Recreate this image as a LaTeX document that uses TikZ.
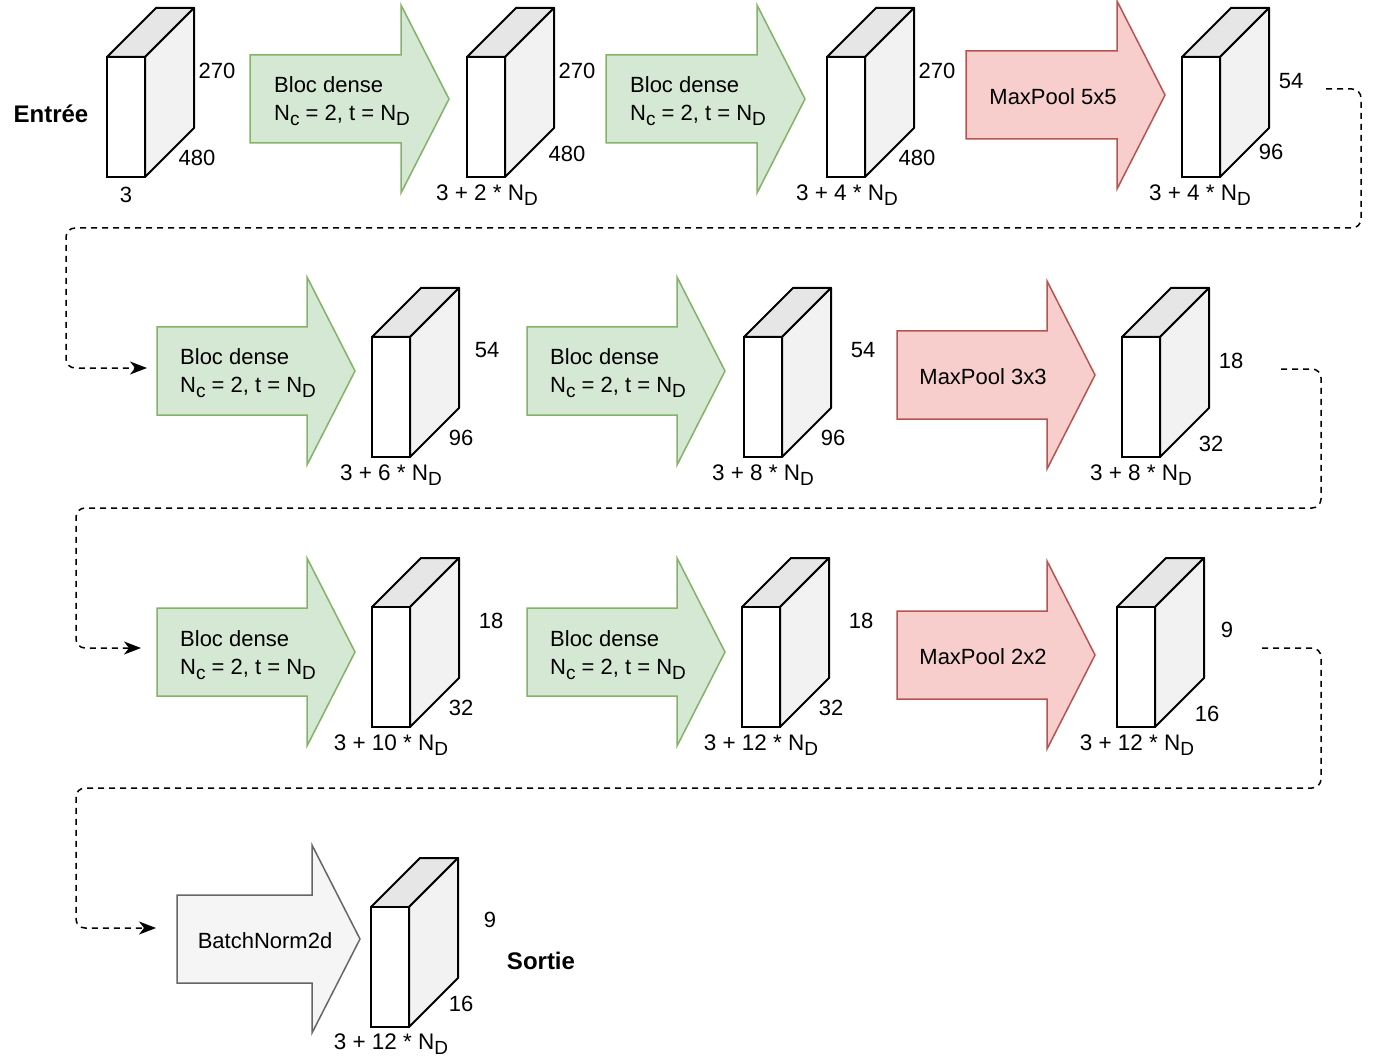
\documentclass[tikz,border=0pt]{standalone}
\usepackage{fontspec}
\setmainfont{Liberation Sans}
\usetikzlibrary{arrows.meta}
\definecolor{gfill}{HTML}{D5E8D4}
\definecolor{gline}{HTML}{82B366}
\definecolor{rfill}{HTML}{F8CECC}
\definecolor{rline}{HTML}{B85450}
\definecolor{nfill}{HTML}{F5F5F5}
\definecolor{nline}{HTML}{666666}
\definecolor{topgray}{HTML}{E6E6E6}
\definecolor{sidegray}{HTML}{F2F2F2}
\newcommand\sbs[1]{\raisebox{-5pt}{\fontsize{19}{19}\selectfont #1}}
\newcommand\cubeblk[3]{%
  \filldraw[cubeline, fill=topgray] (#2,#3) -- (#2+49,#3-49) -- (#2+87,#3-49) -- (#2+38,#3) -- cycle;
  \filldraw[cubeline, fill=sidegray] (#2+38,#3) -- (#2+87,#3-49) -- (#2+87,#3+71) -- (#2+38,#3+120) -- cycle;
  \node[cubefront] (#1) at (#2+19,#3+60) {};
}
\newcommand\bigarrow[6]{%
  \filldraw[#1] (#3,#4-44) -- (#3+#5,#4-44) -- (#3+#5,#4-94) -- (#3+#6,#4) -- (#3+#5,#4+94) -- (#3+#5,#4+44) -- (#3,#4+44) -- cycle;
  \coordinate (#2) at (#3,#4);
}
\tikzset{
  cubeline/.style={draw=black, line width=2pt, line join=round},
  cubefront/.style={draw=black, fill=white, line width=2pt, minimum width=38pt, minimum height=120pt, inner sep=0pt},
  greenarrow/.style={fill=gfill, draw=gline, line width=1.5pt, line join=miter},
  redarrow/.style={fill=rfill, draw=rline, line width=1.5pt, line join=miter},
  grayarrow/.style={fill=nfill, draw=nline, line width=1.5pt, line join=miter},
  lbl/.style={font=\fontsize{22}{28}\selectfont, inner sep=0pt},
  blbl/.style={font=\fontsize{22.5}{28}\selectfont, inner sep=0pt},
  title/.style={font=\fontsize{24}{28}\selectfont\bfseries, inner sep=0pt},
  flow/.style={draw=black, line width=1.5pt, dash pattern=on 6pt off 5pt, rounded corners=9pt, -{Stealth[length=17pt,width=13pt,inset=5pt]}},
}
\begin{document}
\begin{tikzpicture}[x=1pt, y=-1pt]
\useasboundingbox (0,0) rectangle (1378,1064);

% ---------- row 1 ----------
\node[title] (entree) at (51,114) {Entrée};
\cubeblk{c1}{107}{57}
\node[lbl] (c1h) at (217,71) {270};
\node[lbl] (c1w) at (197,158) {480};
\node[lbl] (c1c) at (126,195) {3};

\bigarrow{greenarrow}{a1}{250}{99}{151}{199}
\node[lbl, anchor=west, align=left] (a1t) at (274,101) {Bloc dense\\N\sbs{c} = 2, t = N\sbs{D}};

\cubeblk{c2}{467}{57}
\node[lbl] (c2h) at (577,71) {270};
\node[lbl] (c2w) at (567,154) {480};
\node[blbl] (c2c) at (487,195) {3 + 2 * N\sbs{D}};

\bigarrow{greenarrow}{a2}{606}{99}{151}{199}
\node[lbl, anchor=west, align=left] (a2t) at (630,101) {Bloc dense\\N\sbs{c} = 2, t = N\sbs{D}};

\cubeblk{c3}{827}{57}
\node[lbl] (c3h) at (937,71) {270};
\node[lbl] (c3w) at (917,158) {480};
\node[blbl] (c3c) at (847,195) {3 + 4 * N\sbs{D}};

\bigarrow{redarrow}{a3}{966}{95}{151}{199}
\node[lbl] (a3t) at (1053,97) {MaxPool 5x5};

\cubeblk{c4}{1182}{57}
\node[lbl] (c4h) at (1291,81) {54};
\node[lbl] (c4w) at (1271,152) {96};
\node[blbl] (c4c) at (1200,195) {3 + 4 * N\sbs{D}};

% ---------- row 2 ----------
\bigarrow{greenarrow}{a4}{157}{371}{150}{198}
\node[lbl, anchor=west, align=left] (a4t) at (180,373) {Bloc dense\\N\sbs{c} = 2, t = N\sbs{D}};

\cubeblk{c5}{372}{337}
\node[lbl] (c5h) at (487,350) {54};
\node[lbl] (c5w) at (461,438) {96};
\node[blbl] (c5c) at (391,475) {3 + 6 * N\sbs{D}};

\bigarrow{greenarrow}{a5}{527}{371}{150}{198}
\node[lbl, anchor=west, align=left] (a5t) at (550,373) {Bloc dense\\N\sbs{c} = 2, t = N\sbs{D}};

\cubeblk{c6}{744}{337}
\node[lbl] (c6h) at (863,350) {54};
\node[lbl] (c6w) at (833,438) {96};
\node[blbl] (c6c) at (763,475) {3 + 8 * N\sbs{D}};

\bigarrow{redarrow}{a6}{897}{375}{150}{198}
\node[lbl] (a6t) at (983,377) {MaxPool 3x3};

\cubeblk{c7}{1122}{337}
\node[lbl] (c7h) at (1231,361) {18};
\node[lbl] (c7w) at (1211,444) {32};
\node[blbl] (c7c) at (1141,475) {3 + 8 * N\sbs{D}};

% ---------- row 3 ----------
\bigarrow{greenarrow}{a7}{157}{652}{150}{198}
\node[lbl, anchor=west, align=left] (a7t) at (180,655) {Bloc dense\\N\sbs{c} = 2, t = N\sbs{D}};

\cubeblk{c8}{372}{607}
\node[lbl] (c8h) at (491,621) {18};
\node[lbl] (c8w) at (461,708) {32};
\node[blbl] (c8c) at (391,745) {3 + 10 * N\sbs{D}};

\bigarrow{greenarrow}{a8}{527}{652}{150}{198}
\node[lbl, anchor=west, align=left] (a8t) at (550,655) {Bloc dense\\N\sbs{c} = 2, t = N\sbs{D}};

\cubeblk{c9}{742}{607}
\node[lbl] (c9h) at (861,621) {18};
\node[lbl] (c9w) at (831,708) {32};
\node[blbl] (c9c) at (761,745) {3 + 12 * N\sbs{D}};

\bigarrow{redarrow}{a9}{897}{655}{150}{198}
\node[lbl] (a9t) at (983,657) {MaxPool 2x2};

\cubeblk{c10}{1117}{607}
\node[lbl] (c10h) at (1227,630) {9};
\node[lbl] (c10w) at (1207,714) {16};
\node[blbl] (c10c) at (1137,745) {3 + 12 * N\sbs{D}};

% ---------- row 4 ----------
\bigarrow{grayarrow}{a10}{177}{939}{135}{183}
\node[lbl] (a10t) at (265,941) {BatchNorm2d};

\cubeblk{c11}{371}{907}
\node[lbl] (c11h) at (490,920) {9};
\node[lbl] (c11w) at (461,1004) {16};
\node[blbl] (c11c) at (391,1044) {3 + 12 * N\sbs{D}};
\node[title] (sortie) at (541,961) {Sortie};

% ---------- dashed connectors ----------
\coordinate (d1s) at (1326,89);
\coordinate (d1e) at (147,368);
\draw[flow] (d1s) -- (1361,89) -- (1361,228) -- (66,228) -- (66,368) -- (d1e);

\coordinate (d2s) at (1281,369);
\coordinate (d2e) at (141,648);
\draw[flow] (d2s) -- (1321,369) -- (1321,508) -- (76,508) -- (76,648) -- (d2e);

\coordinate (d3s) at (1262,648);
\coordinate (d3e) at (156,928);
\draw[flow] (d3s) -- (1321,648) -- (1321,788) -- (76,788) -- (76,928) -- (d3e);
\end{tikzpicture}
\end{document}
